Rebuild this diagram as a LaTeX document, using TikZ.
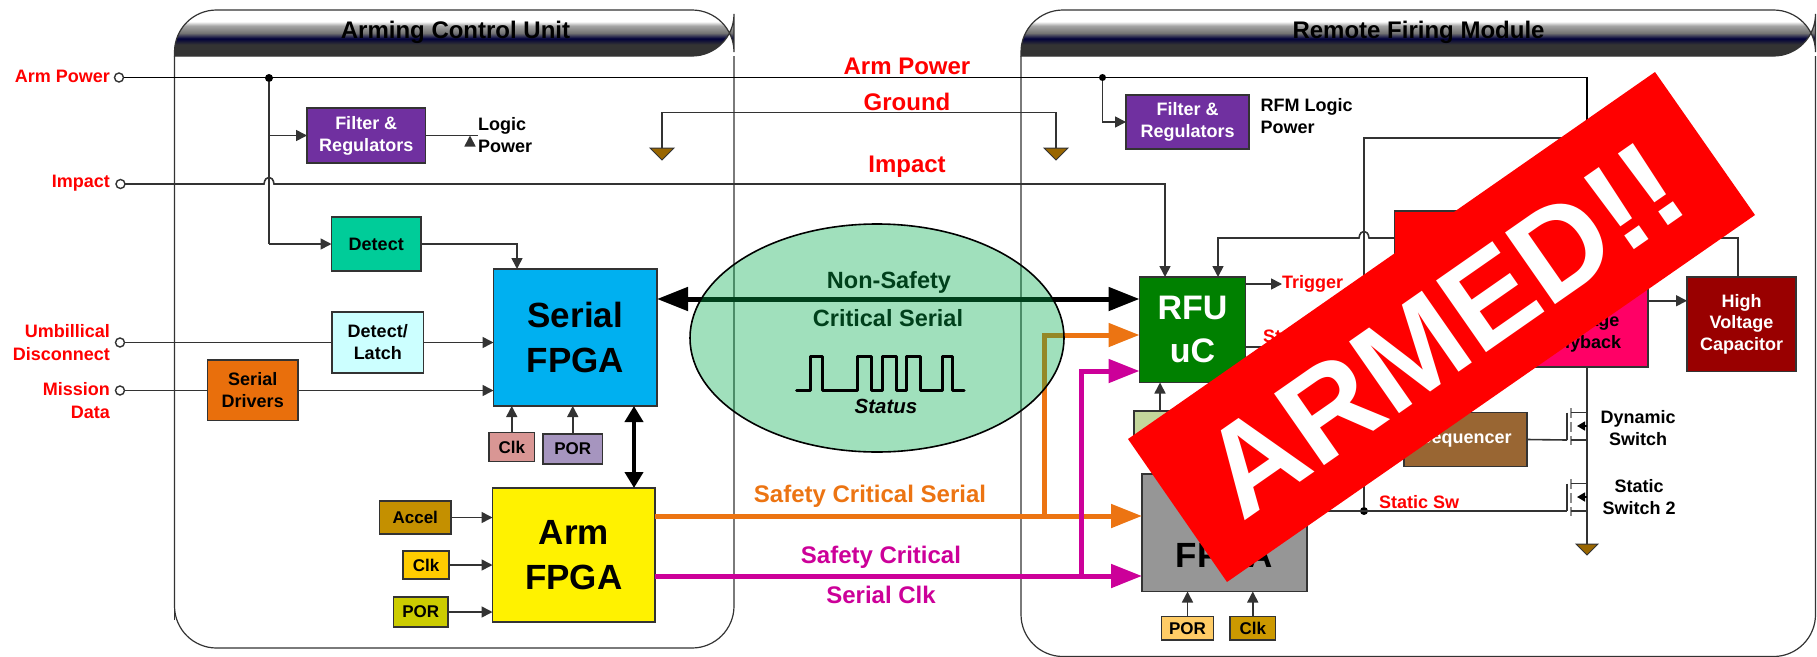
\documentclass[tikz,border=0pt]{standalone}
\usepackage{fontspec}
\setmainfont{Liberation Sans}
\usetikzlibrary{arrows.meta,shapes.geometric}
\definecolor{cline}{HTML}{333333}
\definecolor{cpurple}{HTML}{7030A0}
\definecolor{cdetect}{HTML}{00CC99}
\definecolor{clatch}{HTML}{CCFFFF}
\definecolor{cdriver}{HTML}{E96F0C}
\definecolor{cserial}{HTML}{00B0F0}
\definecolor{cclka}{HTML}{D99694}
\definecolor{cpora}{HTML}{A695BF}
\definecolor{caccel}{HTML}{C49000}
\definecolor{cclkb}{HTML}{FFCC00}
\definecolor{cporb}{HTML}{CCCC00}
\definecolor{corange}{HTML}{EC7412}
\definecolor{cmag}{HTML}{CC0099}
\definecolor{cseq}{HTML}{996633}
\definecolor{cgnd}{HTML}{996600}
\definecolor{cpink}{HTML}{FF0066}
\definecolor{chv}{HTML}{990000}
\definecolor{crfu}{HTML}{008000}
\definecolor{colive}{HTML}{C3D69B}
\definecolor{cgray}{HTML}{969696}
\definecolor{cporc}{HTML}{FFCC66}
\definecolor{cclkc}{HTML}{CC9900}
\definecolor{cellipse}{RGB}{0,172,75}
\definecolor{cfilter}{HTML}{7030A0}
\pgfdeclareverticalshading{hdrshade}{100bp}{color(0bp)=(black!10!blue!10!black!60!white);
  color(0bp)=(cline);color(37.5bp)=(cline);color(44bp)=(black!10!blue!25!black);color(50bp)=(black!55);color(58bp)=(black!35);color(62.5bp)=(white);color(100bp)=(white)}
\newcommand\myfs[2]{\fontsize{#1}{#2}\selectfont}
\newcommand\mybox[7]{%
  \pgfmathsetmacro\myw{#4-#2}\pgfmathsetmacro\myh{#5-#3}%
  \node[boxn,#6,minimum width=\myw pt,minimum height=\myh pt] (#1) at ({(#2+#4)/2},{(#3+#5)/2}) {#7};}
\newcommand\mymos[2]{%
  \begin{scope}[shift={(#1,#2)}]
    \draw[line width=1.5pt,cline] (0,-27.5) -- (0,0);
    \draw[line width=2.5pt,black!45] (4,-32) -- (4,-22) (4,-18) -- (4,-8) (4,-4) -- (4,5);
    \draw[line width=1.5pt,cline] (4,-27.5) -- (20,-27.5) (4,0) -- (20,0);
    \draw[line width=1.5pt,black,-{Triangle[length=8pt,width=9pt]}] (20,-14) -- (10,-14);
  \end{scope}}
\tikzset{
  x=1pt,y=-1pt,
  boxn/.style={draw=cline,line width=1.5pt,inner sep=0pt,outer sep=0pt,align=center,font=\bfseries\myfs{18}{22}},
  panel/.style={draw=cline,line width=1.2pt,rounded corners=42pt},
  hdr/.style={shading=hdrshade},
  title/.style={font=\bfseries\myfs{24}{28},inner sep=0pt,black},
  redl/.style={font=\bfseries\myfs{18}{23},text=red,inner sep=0pt,align=right},
  midl/.style={font=\bfseries\myfs{24}{28},inner sep=0pt},
  plain/.style={font=\bfseries\myfs{18}{22},inner sep=0pt,align=left},
  ln/.style={draw=cline,line width=1.6pt},
  arr/.style={ln,-{Triangle[length=11pt,width=11pt]}},
  thickarr/.style={line width=5pt,-{Triangle[length=31pt,width=23pt]}},
  port/.style={circle,draw=cline,line width=1.4pt,fill=white,minimum size=9pt,inner sep=0pt,outer sep=0pt},
  dot/.style={circle,fill=black,minimum size=8pt,inner sep=0pt,outer sep=0pt},
  gnd/.style={draw=cline,line width=1pt,fill=cgnd},
}
\begin{document}
\begin{tikzpicture}
\useasboundingbox (0,0) rectangle (1817,656);
% panels
\draw[panel] (174.5,56) |- (734,648) -- (734,56);
\draw[panel,sharp corners] (174.5,56) -- (174.5,620);
\path[hdr] (174.5,56) [rounded corners=42pt] -- (174.5,10) -- (734,10) -- (734,56) [sharp corners] -- cycle;
\draw[panel] (174.5,56) [rounded corners=42pt] -- (174.5,10) -- (734,10) -- (734,56) [sharp corners] -- cycle;
\path[panel,draw=none] (1021,56);
\draw[panel] (1021,56) |- (1815.5,656.5) -- (1815.5,56);
\path[hdr] (1021,56) [rounded corners=42pt] -- (1021,10) -- (1815.5,10) -- (1815.5,56) [sharp corners] -- cycle;
\draw[panel] (1021,56) [rounded corners=42pt] -- (1021,10) -- (1815.5,10) -- (1815.5,56) [sharp corners] -- cycle;
\node[title] (ta) at (455.5,32) {Arming Control Unit};
\node[title] (tb) at (1418.5,32) {Remote Firing Module};

% left labels and ports
\node[redl,anchor=east] (larm) at (110,76) {Arm Power};
\node[redl,anchor=east] (limp) at (110,183) {Impact};
\node[redl,anchor=east] (lumb) at (110,342.5) {Umbillical\\Disconnect};
\node[redl,anchor=east] (lmis) at (110,401) {Mission\\Data};
\node[port] (parm) at (119,77.5) {};
\node[port] (pimp) at (120.5,184) {};
\node[port] (pumb) at (120,342.5) {};
\node[port] (pmis) at (120,390.5) {};

% boxes, left
\mybox{fa}{307}{108}{425.5}{163}{fill=cpurple,text=white}{Filter \&\\Regulators}
\mybox{det}{331.5}{217}{421}{271}{fill=cdetect}{Detect}
\mybox{dl}{332}{312}{423.5}{373}{fill=clatch}{Detect/\\Latch}
\mybox{sd}{207.5}{360}{298}{420.5}{fill=cdriver}{Serial\\Drivers}
\mybox{ser}{493.5}{269}{657}{406}{fill=cserial,font=\bfseries\myfs{35}{45}}{Serial\\FPGA}
\mybox{ca}{489}{432.5}{534.5}{461.5}{fill=cclka,font=\bfseries\myfs{17}{20}}{Clk}
\mybox{pa}{543}{434}{602.5}{464}{fill=cpora,font=\bfseries\myfs{17}{20}}{POR}
\mybox{arm}{492.5}{488}{655}{622}{fill=yellow,font=\bfseries\myfs{35}{45}}{Arm\\FPGA}
\mybox{acc}{379.5}{501}{451}{534}{fill=caccel,font=\bfseries\myfs{17}{20}}{Accel}
\mybox{cb}{403}{551}{449}{579}{fill=cclkb,font=\bfseries\myfs{17}{20}}{Clk}
\mybox{pb}{393.5}{597}{448}{627}{fill=cporb,font=\bfseries\myfs{17}{20}}{POR}
\node[plain,anchor=west] (lp) at (478,135.5) {Logic\\Power};

% boxes, right
\mybox{fb}{1126}{95}{1249}{149}{fill=cpurple,text=white}{Filter \&\\Regulators}
\node[plain,anchor=west] (rp) at (1260.5,116.5) {RFM Logic\\Power};
\mybox{rfu}{1139.5}{277}{1245.5}{382.5}{fill=crfu,text=white,font=\bfseries\myfs{34}{43}}{RFU\\uC}
\mybox{olv}{1134}{411}{1290}{445}{fill=colive}{}
\mybox{fp}{1142}{474}{1307}{591.5}{fill=cgray,font=\bfseries\myfs{35}{45}}{\vphantom{X}\\FPGA}
\mybox{pc}{1161.5}{616.5}{1213.5}{640}{fill=cporc,font=\bfseries\myfs{17}{20}}{POR}
\mybox{cc}{1230}{616.5}{1275.5}{640}{fill=cclkc,font=\bfseries\myfs{17}{20}}{Clk}
\mybox{red}{1394.5}{211}{1500}{290}{fill=red}{}
\mybox{pnk}{1527}{277}{1648}{367}{fill=cpink,font=\bfseries\myfs{18}{22}}{\vphantom{X}\\Voltage\\Flyback}
\mybox{hv}{1687}{277}{1796}{371.5}{fill=chv,text=white,font=\bfseries\myfs{18}{21.5}}{High\\Voltage\\Capacitor}
\mybox{sq}{1404}{412.5}{1527}{466.5}{fill=cseq,text=white}{Sequencer}

% text labels
\node[midl,text=red] (m1) at (907,66) {Arm Power};
\node[midl,text=red] (m2) at (907,102) {Ground};
\node[midl,text=red] (m3) at (907,167) {Impact};
\node[midl,text=corange] (m4) at (870,496) {Safety Critical Serial};
\node[midl,text=cmag] (m5) at (881,557) {Safety Critical};
\node[midl,text=cmag] (m6) at (881,595) {Serial Clk};
\node[redl,anchor=west] (ltr) at (1282,284) {Trigger};
\node[redl,anchor=west] (lst) at (1263,336) {St};
\node[redl,anchor=west] (lss) at (1379,502) {Static Sw};
\node[plain,align=center] (ld) at (1638,428) {Dynamic\\Switch};
\node[plain,align=center] (ls) at (1639,497.5) {Static\\Switch 2};

% connectors left
\node[dot] (ja) at (269,78) {};
\coordinate (ae) at (1587,77.5);
\draw[ln,line width=1.8pt,black] (parm) -- (ae) -- (pnk.north -| ae);
\draw[ln] (ja) -- (269,135.5) -- (269,244);
\draw[arr] (ja |- fa.west) -- (fa.west);
\draw[arr] (ja |- det.west) -- (det.west);
\draw[arr] (fa.east) -- (lp.west |- fa.east) ++(-8,0);
\coordinate (iturn) at (1165,184);
\draw[arr] (pimp) -- (264,184) .. controls (265,175) and (273,175) .. (274,184) -- (iturn) -- (iturn |- rfu.north);
\coordinate (g1) at (662,148);
\coordinate (g2) at (1056,148);
\coordinate (gt) at (662,112.5);
\draw[ln] (g1) -- (gt) -- (gt -| g2) -- (g2);
\draw[gnd] (g1) ++(-12,0) -- ++(24,0) -- ++(-12,12) -- cycle;
\draw[gnd] (g2) ++(-12,0) -- ++(24,0) -- ++(-12,12) -- cycle;
\coordinate (dx) at (517,244);
\draw[arr] (det.east) -- (dx) -- (dx |- ser.north);
\draw[ln] (pumb) -- (dl.west);
\draw[arr] (dl.east) -- (dl.east -| ser.west);
\draw[ln] (pmis) -- (sd.west |- pmis);
\draw[arr] (sd.east |- pmis) -- (ser.west |- pmis);
\draw[arr] (ca.north) -- (ca.north |- ser.south);
\draw[arr] (pa.north) -- (pa.north |- ser.south);
\coordinate (da) at (634,406);
\draw[line width=4pt,black,{Triangle[length=16pt,width=18pt]}-{Triangle[length=16pt,width=18pt]}] (da) -- (da |- arm.north);
\draw[arr] (acc.east) -- (acc.east -| arm.west);
\draw[arr] (cb.east) -- (cb.east -| arm.west);
\draw[arr] (pb.east) -- (pb.east -| arm.west);

% connectors right
\node[dot,minimum size=7pt] (jb) at (1102.5,77.5) {};
\draw[arr] (jb) |- (fb.west);
\draw[arr] (rfu.east |- ltr) -- (ltr.west);
\coordinate (v2) at (1364,138);
\node[dot] (js) at (1364,511) {};
\draw[ln] (js) -- (v2) -- (ae |- v2);
\coordinate (rt) at (1218,238);
\draw[arr] (red.west |- rt) -- (1369,238) .. controls (1368,229) and (1360,229) .. (1359,238) -- (rt) -- (rt |- rfu.north);
\coordinate (ht) at (1738,238);
\draw[ln] (red.east |- ht) -- (ht) -- (ht |- hv.north);
\coordinate (ol) at (1160,411);
\draw[arr] (ol) -- (ol |- rfu.south);
\draw[ln] (rfu.east |- 0,347) -- (1300,347);
\draw[arr] (pc.north) -- (pc.north |- fp.south);
\draw[arr] (cc.north) -- (cc.north |- fp.south);
\draw[arr] (hv.west -| pnk.east) ++(0,-23.5) coordinate (pe) -- (pe -| hv.west);
\coordinate (bs) at (1587,544);
\draw[ln] (ae |- pnk.south) -- (bs);
\draw[gnd] (bs) ++(-11,0) -- ++(22,0) -- ++(-11,11) -- cycle;
\draw[ln] (sq.east) -- (1567,440);
\draw[ln] (fp.east |- js) -- (1567,511);
\mymos{1567}{440}
\mymos{1567}{511}

% thick buses
\coordinate (oa) at (655,516);
\coordinate (ob) at (1044,516);
\coordinate (oc) at (1044,335);
\coordinate (ma) at (655,576);
\coordinate (mb) at (1081,576);
\coordinate (mc) at (1081,371);
\draw[thickarr,corange] (oa) -- (oa -| fp.west);
\draw[thickarr,corange] (ob) -- (oc) -- (oc -| rfu.west);
\draw[thickarr,cmag] (ma) -- (ma -| fp.west);
\draw[thickarr,cmag] (mb) -- (mc) -- (mc -| rfu.west);
\draw[line width=5pt,black,{Triangle[length=31pt,width=23pt]}-{Triangle[length=31pt,width=23pt]}] (ser.east |- 0,299) -- (rfu.west |- 0,299);

% green ellipse over the serial link
\node[midl,font=\bfseries\myfs{23.5}{28}] (ns1) at (889,282) {Non-Safety};
\node[midl,font=\bfseries\myfs{23.5}{28}] (ns2) at (888,318) {Critical Serial};
\node[ellipse,minimum width=374pt,minimum height=228pt,fill=cellipse,fill opacity=.373,draw=none,inner sep=0pt] (ell) at (877,338) {};
\node[ellipse,minimum width=374pt,minimum height=228pt,draw=black,line width=1.6pt,inner sep=0pt] (ell2) at (877,338) {};
\draw[line width=3pt,black,line cap=round,line join=round] (796.5,390.5) -- (810,390.5) -- (810,356.5) -- (822,356.5) -- (822,390.5) -- (857,390.5) -- (857,356.5) -- (871,356.5) -- (871,390.5) -- (882,390.5) -- (882,356.5) -- (896,356.5) -- (896,390.5) -- (906,390.5) -- (906,356.5) -- (920,356.5) -- (920,390.5) -- (942,390.5) -- (942,356.5) -- (952,356.5) -- (952,390.5) -- (964,390.5);
\node[inner sep=0pt,font=\bfseries\itshape\myfs{20.5}{24}] (st) at (886,406) {Status};

% banner
\fill[red] (1655,72) -- (1755,215) -- (1227,582) -- (1128,439) -- cycle;
\node[anchor=base west,inner sep=0pt,rotate=34.87,text=white,font=\bfseries\myfs{127}{130}] (ban) at (1242,523) {ARMED!!};
\end{tikzpicture}
\end{document}
